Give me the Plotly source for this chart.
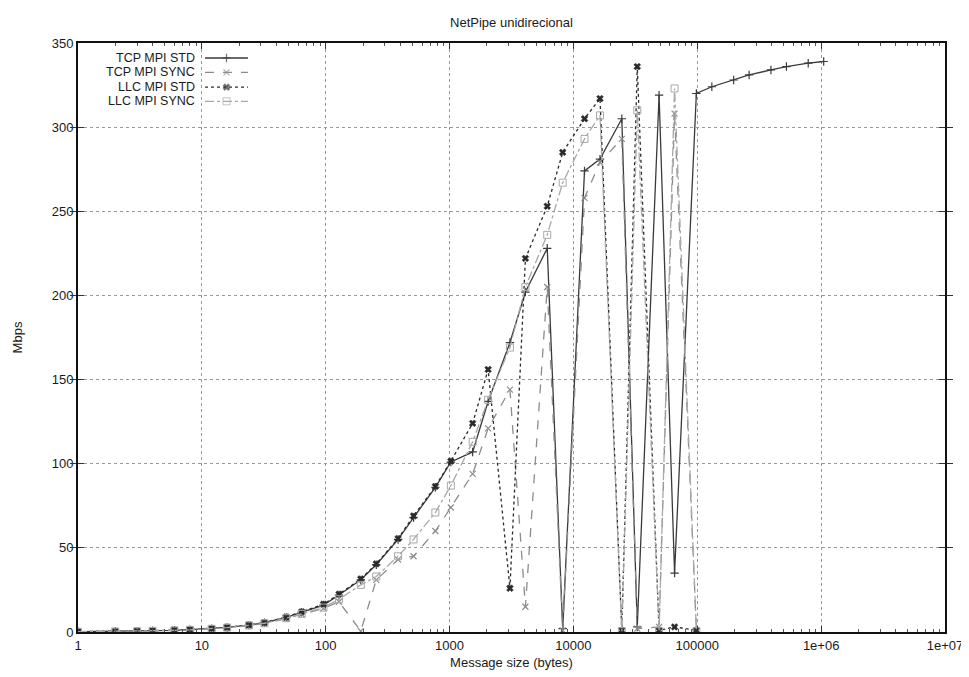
import plotly.graph_objects as go

# ---------------- data ----------------
sizes = [1, 2, 3, 4, 6, 8, 12, 16, 24, 32, 48, 64, 96, 128, 192, 256, 384, 512,
         768, 1024, 1536, 2048, 3072, 4096, 6144, 8192, 12288, 16384, 24576,
         32768, 49152, 65536, 98304]
sizes_long = sizes + [131072, 196608, 262144, 393216, 524288, 786432, 1048576]

tcp_std = [0.17, 0.35, 0.5, 0.7, 1.0, 1.4, 2.0, 2.7, 4.1, 5.5, 8.7, 11.7, 16.0,
           22.0, 31.0, 40.0, 55.0, 68.0, 86.0, 101.0, 107.0, 137.0, 172.0,
           202.0, 228.0, 2.0, 274.0, 281.0, 305.0, 3.0, 319.0, 35.0, 320.0,
           324.0, 328.0, 331.0, 334.0, 336.0, 338.0, 339.0]
tcp_sync = [0.16, 0.33, 0.48, 0.65, 0.95, 1.3, 1.9, 2.5, 3.8, 5.0, 8.0, 10.5,
            14.0, 18.0, 0.5, 31.0, 43.0, 45.0, 60.0, 74.0, 94.0, 121.0, 144.0,
            15.0, 205.0, 1.0, 258.0, 279.0, 293.0, 2.0, 3.0, 308.0, 1.0]
llc_std = [0.18, 0.36, 0.52, 0.72, 1.05, 1.45, 2.1, 2.8, 4.2, 5.6, 8.9, 12.0,
           16.5, 22.5, 31.5, 40.5, 55.5, 69.0, 86.5, 101.5, 124.0, 156.0, 26.0,
           222.0, 253.0, 285.0, 305.0, 317.0, 1.0, 336.0, 1.0, 3.0, 1.0]
llc_sync = [0.16, 0.33, 0.48, 0.66, 0.97, 1.3, 1.9, 2.6, 3.9, 5.2, 8.2, 10.8,
            14.5, 19.5, 28.0, 33.0, 45.0, 55.0, 71.0, 87.0, 113.0, 138.0, 169.0,
            205.0, 236.0, 267.0, 293.0, 307.0, 0.5, 310.0, 0.5, 323.0, 0.5]

series_names = ["TCP MPI STD", "TCP MPI SYNC", "LLC MPI STD", "LLC MPI SYNC"]
x_tick_vals = [1, 10, 100, 1000, 10000, 100000, 1000000, 10000000]
x_tick_text = ["1", "10", "100", "1000", "10000", "100000", "1e+06", "1e+07"]
y_tick_vals = [0, 50, 100, 150, 200, 250, 300, 350]

# ---------------- styles ----------------
styles = [
    dict(color="#3a3a3a", dash="solid", symbol="cross-thin", msize=6, mlw=1.2),
    dict(color="#8c8c8c", dash="dash", symbol="x-thin", msize=6, mlw=1.2),
    dict(color="#2a2a2a", dash="dot", symbol="x", msize=6, mlw=0.5),
    dict(color="#a8a8a8", dash="dashdot", symbol="square-open", msize=7, mlw=1.0),
]
data_x = [sizes_long, sizes, sizes, sizes]
data_y = [tcp_std, tcp_sync, llc_std, llc_sync]

fig = go.Figure()
for name, xs, ys, st in zip(series_names, data_x, data_y, styles):
    fig.add_trace(go.Scatter(
        x=xs, y=ys, mode="lines+markers", name=name, showlegend=False,
        line=dict(color=st["color"], dash=st["dash"], width=1.3),
        marker=dict(symbol=st["symbol"], size=st["msize"], color=st["color"],
                    line=dict(color=st["color"], width=st["mlw"])),
    ))

font = dict(family="Liberation Sans, Arial", size=13, color="#1a1a1a")
key_font = dict(family="Liberation Sans, Arial", size=12.5, color="#1a1a1a")

# custom gnuplot-style key (text, then sample) on an overlay axis in [0,1]
key_x0, key_xm, key_x1 = 0.1465, 0.1713, 0.196
key_rows = [0.9745, 0.950, 0.925, 0.901]
for name, st, ky in zip(series_names, styles, key_rows):
    fig.add_trace(go.Scatter(
        x=[key_x0, key_xm, key_x1], y=[ky, ky, ky], xaxis="x2", yaxis="y2",
        mode="lines+markers", showlegend=False, hoverinfo="skip",
        line=dict(color=st["color"], dash=st["dash"], width=1.3),
        marker=dict(symbol=st["symbol"], size=[0, st["msize"], 0], color=st["color"],
                    line=dict(color=st["color"], width=st["mlw"])),
    ))
    fig.add_annotation(x=0.137, y=ky, xref="paper", yref="paper", text=name,
                       showarrow=False, xanchor="right", yanchor="middle",
                       font=key_font)

minor_x = [m * 10 ** k for k in range(0, 7) for m in range(2, 10)]

# the page body has an 8px margin; the figure is offset by it
fig.update_layout(
    width=961, height=669,
    margin=dict(l=70, r=24, t=35, b=45, autoexpand=False),
    paper_bgcolor="white", plot_bgcolor="white",
    font=font,
    title=dict(text="NetPipe unidirecional", x=0.5, xref="paper", xanchor="center",
               y=0.979, yanchor="middle", font=font),
    xaxis=dict(
        type="log", range=[0, 7], tickvals=x_tick_vals, ticktext=x_tick_text,
        showline=True, linecolor="#111", linewidth=2, mirror="allticks",
        ticks="inside", ticklen=6, tickcolor="#333", automargin=False,
        showgrid=True, gridcolor="#9a9a9a", griddash="3px,3px", gridwidth=1,
        zeroline=False,
        minor=dict(tickvals=minor_x, ticks="inside", ticklen=3, tickcolor="#555",
                   showgrid=False),
        title=dict(text="Message size (bytes)", standoff=6, font=font),
        tickfont=font,
    ),
    yaxis=dict(
        range=[0, 350], tickvals=y_tick_vals,
        showline=True, linecolor="#111", linewidth=2, mirror="allticks",
        ticks="inside", ticklen=6, tickcolor="#333", automargin=False,
        showgrid=True, gridcolor="#9a9a9a", griddash="3px,3px", gridwidth=1,
        zeroline=False,
        title=dict(text="Mbps", standoff=26, font=font),
        tickfont=font,
    ),
    xaxis2=dict(overlaying="x", range=[0, 1], visible=False),
    yaxis2=dict(overlaying="y", range=[0, 1], visible=False),
    # top-edge minor ticks (gnuplot mirrors them)
    xaxis3=dict(overlaying="x", side="top", type="log", range=[0, 7], anchor="y",
                tickvals=minor_x, ticks="inside", ticklen=3, tickcolor="#555",
                showticklabels=False, showgrid=False, zeroline=False,
                showline=False, automargin=False),
)
fig.add_trace(go.Scatter(x=[1], y=[0], xaxis="x3", mode="markers",
                         marker=dict(size=0, opacity=0), showlegend=False,
                         hoverinfo="skip"))

fig.write_html("out.html")
